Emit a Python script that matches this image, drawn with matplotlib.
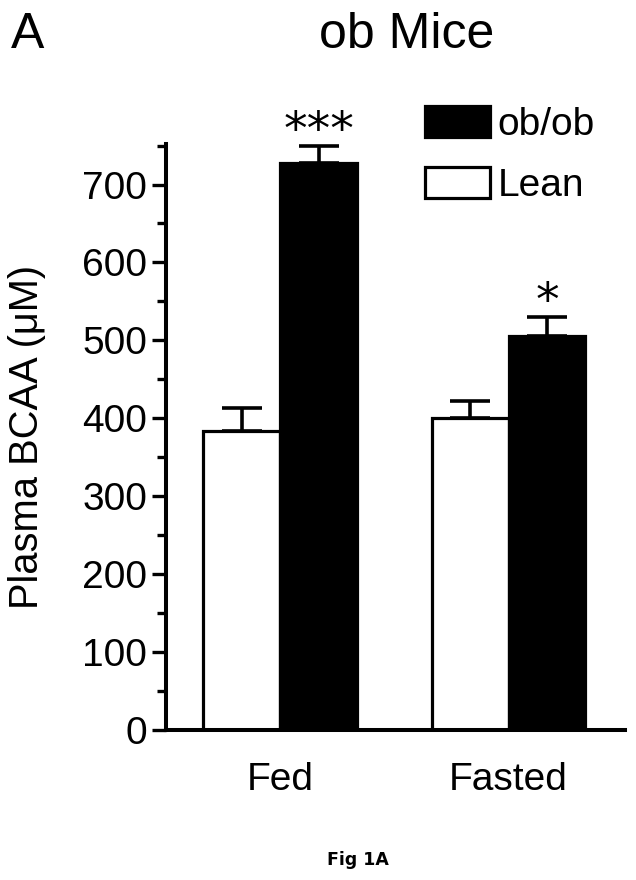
import matplotlib
matplotlib.use("Agg")
import matplotlib.pyplot as plt
import numpy as np

plt.rcParams['font.family'] = ['Liberation Sans', 'DejaVu Sans']

conditions = ["Fed", "Fasted"]
groups = ["Lean", "ob/ob"]
lean_mean = [384, 400]
lean_sem = [29, 22]
ob_mean = [727, 506]
ob_sem = [23, 24]
ob_stars = ["***", "*"]

W, H = 636, 880
fig = plt.figure(figsize=(W / 100, H / 100), dpi=100)
ax = fig.add_axes([166 / W, 1 - 730 / H, (625 - 166) / W, 586 / H])

x = np.arange(len(conditions))
w = 0.337
lw = 2.3

b_lean = ax.bar(x - w / 2, lean_mean, w, color="white", edgecolor="black",
                linewidth=lw, label="Lean", zorder=2)
b_ob = ax.bar(x + w / 2, ob_mean, w, color="black", edgecolor="black",
              linewidth=lw, label="ob/ob", zorder=2)

zeros = [0] * len(conditions)
ax.errorbar(x - w / 2, lean_mean, yerr=[zeros, lean_sem], fmt="none",
            ecolor="black", elinewidth=2.6, capsize=14.5, capthick=2.6, zorder=1)
ax.errorbar(x + w / 2, ob_mean, yerr=[zeros, ob_sem], fmt="none",
            ecolor="black", elinewidth=2.6, capsize=14.5, capthick=2.6, zorder=1)

for xi, m, s, st in zip(x + w / 2, ob_mean, ob_sem, ob_stars):
    ax.annotate(st, (xi, m + s), xytext=(0, -6), textcoords="offset points",
                ha="center", va="bottom", fontsize=34, color="black",
                family=["DejaVu Sans"])

ax.set_xlim(-0.5, 1.51)
ax.set_ylim(0, 752)
ax.set_yticks(np.arange(0, 701, 100))
ax.set_yticks(np.arange(50, 751, 100), minor=True)
ax.set_xticks(x)
ax.set_xticklabels(conditions)

for sp in ["top", "right"]:
    ax.spines[sp].set_visible(False)
for sp in ["left", "bottom"]:
    ax.spines[sp].set_linewidth(2.9)

ax.tick_params(axis="y", which="major", length=10, width=2.4, labelsize=28, pad=3.5)
ax.tick_params(axis="y", which="minor", length=6.5, width=2.4)
ax.tick_params(axis="x", length=0, labelsize=28, pad=23)

ax.set_ylabel("Plasma BCAA (\u03bcM)", fontsize=28.7, labelpad=26)

leg = ax.legend(handles=[b_ob, b_lean], labels=["ob/ob", "Lean"],
                loc="upper left", bbox_to_anchor=(425 / W, 1 - 106 / H),
                bbox_transform=fig.transFigure, frameon=False, fontsize=28,
                handlelength=1.67, handleheight=0.85, handletextpad=0.2,
                borderpad=0, borderaxespad=0, labelspacing=0.63)

fig.text(11 / W, 1 - 48 / H, "A", fontsize=36, ha="left", va="baseline")
fig.text(407 / W, 1 - 48 / H, "ob Mice", fontsize=36, ha="center", va="baseline")
fig.text(358 / W, 1 - 860 / H, "Fig 1A", fontsize=12.5, fontweight="bold",
         ha="center", va="center", family=["DejaVu Sans"])

fig.savefig("out.png", dpi=100)
